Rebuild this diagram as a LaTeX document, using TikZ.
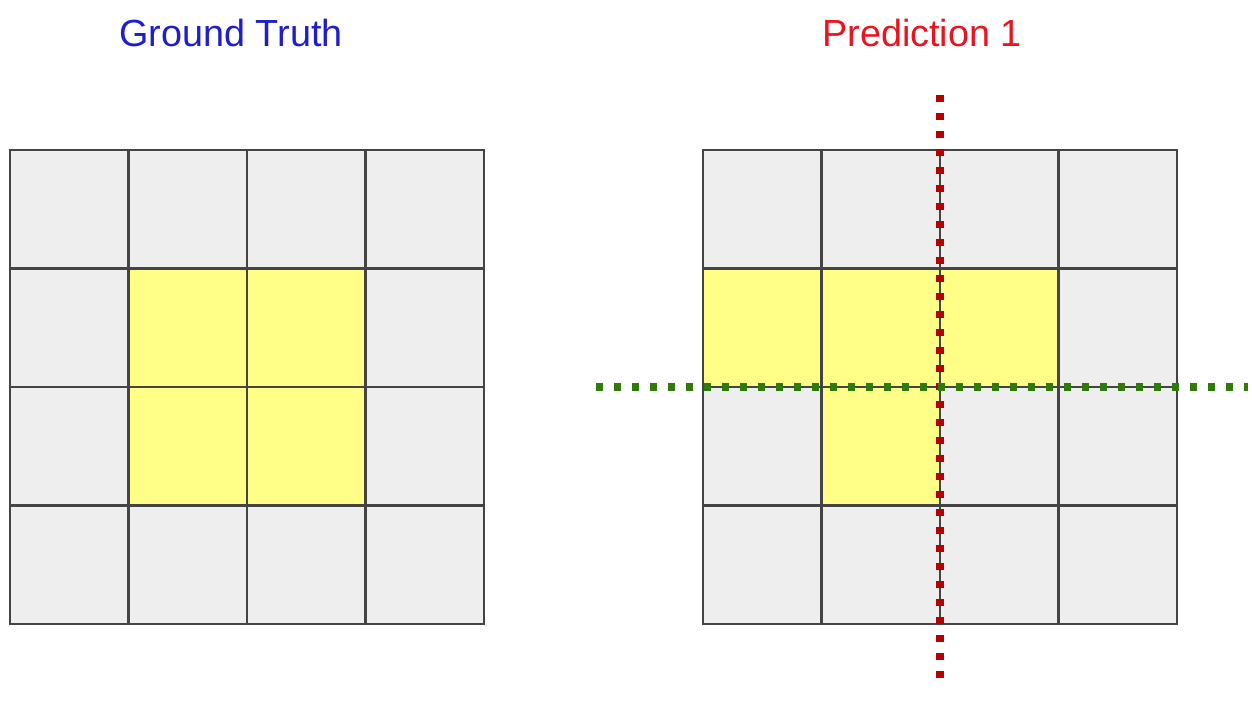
\documentclass[tikz,border=0pt]{standalone}
\usepackage{fontspec}
\setmainfont{Liberation Sans}
\usetikzlibrary{positioning}
\definecolor{cellgrey}{HTML}{EEEEEE}
\definecolor{cellyellow}{HTML}{FFFF88}
\definecolor{gridline}{HTML}{444444}
\definecolor{titleblue}{HTML}{1E1ECC}
\definecolor{titlered}{HTML}{E8141E}
\definecolor{cutred}{HTML}{B40000}
\definecolor{cutgreen}{HTML}{2E7A0A}
\begin{document}
\begin{tikzpicture}
[x=0.02cm,y=-0.02cm,
 cell/.style={draw=gridline,line width=1.2pt,fill=cellgrey},
 hit/.style={cell,fill=cellyellow},
 title/.style={font=\fontsize{21.5}{26}\selectfont},
 cut/.style={line width=4pt,dash pattern=on 0.14cm off 0.22cm}]
\useasboundingbox (0,0) rectangle (1252,702);

\node[title,text=titleblue] (gt) at (231,33) {Ground Truth};
\node[title,text=titlered] (pred) at (922,33) {Prediction 1};

% ground truth grid
\foreach \i in {0,...,3}
  \foreach \j in {0,...,3}
    \draw[cell] (10+118.5*\i,150+118.5*\j) rectangle ++(118.5,118.5);
\foreach \i/\j in {1/1,2/1,1/2,2/2}
  \draw[hit] (10+118.5*\i,150+118.5*\j) rectangle ++(118.5,118.5);

% prediction grid
\foreach \i in {0,...,3}
  \foreach \j in {0,...,3}
    \draw[cell] (703+118.5*\i,150+118.5*\j) rectangle ++(118.5,118.5);
\foreach \i/\j in {0/1,1/1,2/1,1/2}
  \draw[hit] (703+118.5*\i,150+118.5*\j) rectangle ++(118.5,118.5);

% cut lines
\coordinate (vtop) at (940,95);
\coordinate (vbot) at (940,685);
\coordinate (hleft) at (596,387);
\coordinate (hright) at (1248,387);
\draw[cut,cutred] (vtop) -- (vbot);
\draw[cut,cutgreen] (hleft) -- (hright);
\end{tikzpicture}
\end{document}
